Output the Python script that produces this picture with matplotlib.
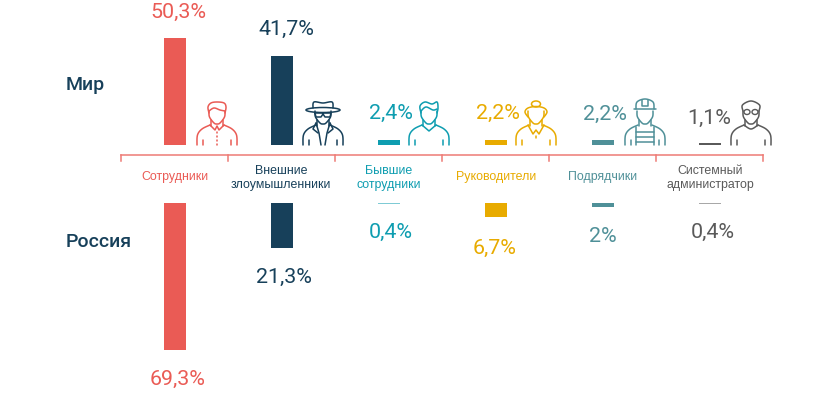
import numpy as np
import matplotlib
matplotlib.use("Agg")
from matplotlib import pyplot as plt
from matplotlib.patches import Ellipse

# values, percent
categories = ["Сотрудники", "Внешние\nзлоумышленники", "Бывшие\nсотрудники",
              "Руководители", "Подрядчики", "Системный\nадминистратор"]
world = [50.3, 41.7, 2.4, 2.2, 2.2, 1.1]
russia = [69.3, 21.3, 0.4, 6.7, 2, 0.4]
world_labels = ["50,3%", "41,7%", "2,4%", "2,2%", "2,2%", "1,1%"]
russia_labels = ["69,3%", "21,3%", "0,4%", "6,7%", "2%", "0,4%"]
colors = ["#EA5B55", "#17405A", "#0E9DB0", "#E8AB00", "#4F9098", "#5A5A5A"]
russia_colors = ["#EA5B55", "#17405A", "#7FCBD5", "#E8AB00", "#4F9098", "#A8A8A8"]

W, H = 832, 393
PX = 2.125  # pixels per percent
BAR_X0 = 175
STEP = 107

plt.rcParams['font.family'] = ['Roboto', 'DejaVu Sans']
fig = plt.figure(figsize=(W / 100, H / 100), dpi=100)

# overlay in pixel coordinates for the decoration
ov = fig.add_axes([0, 0, 1, 1])
ov.set_xlim(0, W)
ov.set_ylim(H, 0)
ov.axis("off")

xs = np.arange(len(categories))
xlim = (-BAR_X0 / STEP, (W - BAR_X0) / STEP)

# top bars grow up from y=145, bottom ones grow down from y=203
ax_top = fig.add_axes([0, 1 - 145 / H, 1, 145 / H])
ax_top.set_xlim(xlim)
ax_top.set_ylim(0, 145 / PX)
ax_top.bar(xs, world, width=22 / STEP, color=colors)
ax_top.axis("off")

ax_bot = fig.add_axes([0, 0, 1, (H - 203) / H])
ax_bot.set_xlim(xlim)
ax_bot.set_ylim((H - 203) / PX, 0)
ax_bot.bar(xs, russia, width=22 / STEP, color=russia_colors)
ax_bot.axis("off")

# bracket line under the top row
LINE = "#EE7B75"
ticks = [121 + STEP * i for i in range(7)]
ov.plot([121, 763], [155, 155], color=LINE, lw=1.1)
for t in ticks:
    ov.plot([t, t], [155, 161], color=LINE, lw=1.1)

label_y = [177, 178, 178, 177, 177, 178]
label_x = [175, 281, 389, 496, 603, 710]
for i, c in enumerate(categories):
    ov.text(label_x[i], label_y[i], c, color=colors[i], ha="center", va="center",
            fontsize=8.9, family=["Liberation Sans"], linespacing=1.12)

top_pos = [(178, 12), (286, 29), (391, 113), (498, 113), (605, 114), (709, 118)]
bot_pos = [(178, 379), (284, 277), (391, 232), (495, 248), (603, 237), (713, 232)]
for i in range(6):
    ov.text(*top_pos[i], world_labels[i], color=colors[i], ha="center", va="center", fontsize=15.4)
    ov.text(*bot_pos[i], russia_labels[i], color=colors[i], ha="center", va="center", fontsize=15.4)

ov.text(66, 85, "Мир", color="#17405A", fontsize=14, fontweight="medium", va="center")
ov.text(66, 242, "Россия", color="#17405A", fontsize=14, fontweight="medium", va="center")


def spline(pts, n=12):
    # catmull-rom through the points, ends repeated
    p = np.array(pts, dtype=float)
    p = np.vstack([p[0], p, p[-1]])
    out = []
    for k in range(1, len(p) - 2):
        t = np.linspace(0, 1, n)[:, None]
        a, b, c, d = p[k - 1], p[k], p[k + 1], p[k + 2]
        out.append(0.5 * (2 * b + (c - a) * t + (2 * a - 5 * b + 4 * c - d) * t ** 2
                          + (3 * b - a - 3 * c + d) * t ** 3))
    return np.vstack(out)


def line(cx, pts, col, smooth=True, lw=1.1):
    q = spline(pts) if smooth else np.array(pts, dtype=float)
    ov.plot(cx + q[:, 0], q[:, 1], color=col, lw=lw, solid_capstyle="round", solid_joinstyle="round")


def body(cx, col, neck=True):
    # shoulders, arm seams, lower half of the face
    for s in (-1, 1):
        line(cx, [(s * 20, 145), (s * 19.5, 135), (s * 15, 129), (s * 7, 125)], col)
        line(cx, [(s * 14, 140), (s * 14, 145)], col, smooth=False)
        if neck:
            line(cx, [(s * 6, 120), (s * 6, 126)], col, smooth=False)
    line(cx, [(-8, 111), (-7.5, 117), (-3, 123), (0, 124), (3, 123), (7.5, 117), (8, 111)], col)


def hair(cx, col, top=102):
    line(cx, [(-8, 113), (-9, 107), (-6, top + 1), (0, top), (7, top + 1), (9, 107), (8, 113)], col)
    line(cx, [(-8, 111), (-3, 108), (3, 110), (8, 111)], col)


# сотрудник
cx, col = 217, colors[0]
body(cx, col)
hair(cx, col)
line(cx, [(-7, 125), (-2, 130), (0, 126), (2, 130), (7, 125)], col, smooth=False)
for y in (132, 136, 140, 144):
    line(cx, [(0, y), (0, y + 1)], col, smooth=False)

# внешний злоумышленник
cx, col = 323, colors[1]
body(cx, col)
ov.add_patch(Ellipse((cx, 110), 34, 5, fill=False, ec=col, lw=1.1))
line(cx, [(-10, 108), (-9, 102), (0, 103), (9, 102), (10, 108)], col)
line(cx, [(-8, 113), (8, 113), (7, 117), (2, 117), (0, 114), (-2, 117), (-7, 117), (-8, 113)], col, smooth=False)
line(cx, [(-7, 123), (-4, 133), (-2, 145)], col, smooth=False)
line(cx, [(7, 123), (4, 133), (2, 145)], col, smooth=False)
line(cx, [(-7, 123), (-10, 129), (-5, 133)], col, smooth=False)
line(cx, [(7, 123), (10, 129), (5, 133)], col, smooth=False)

# бывший сотрудник
cx, col = 429, colors[2]
body(cx, col)
line(cx, [(-8, 113), (-9, 106), (-4, 102), (3, 104), (8, 102), (9, 108), (8, 113)], col)
line(cx, [(-8, 111), (-3, 107), (4, 110), (8, 109)], col)
line(cx, [(-7, 125), (0, 131), (7, 125)], col, smooth=False)

# руководитель
cx, col = 536, colors[3]
body(cx, col)
ov.add_patch(Ellipse((cx, 104), 9, 6, fill=False, ec=col, lw=1.1))
line(cx, [(-8, 117), (-11, 112), (-8, 108), (0, 106.5), (8, 108), (11, 112), (8, 117)], col)
line(cx, [(-8, 125), (-3, 134), (0, 130), (3, 134), (8, 125)], col, smooth=False)
line(cx, [(0, 136), (0, 138)], col, smooth=False)

# подрядчик
cx, col = 645, colors[4]
body(cx, col)
line(cx, [(-9, 109), (-8, 102), (0, 99), (8, 102), (9, 109)], col)
line(cx, [(-11, 109), (11, 109)], col, smooth=False)
line(cx, [(-3, 100), (-3, 106), (3, 106), (3, 100)], col, smooth=False)
for s in (-1, 1):
    line(cx, [(s * 9, 127), (s * 9, 145)], col, smooth=False)
for y in (132, 137, 142):
    line(cx, [(-9, y), (9, y)], col, smooth=False)

# системный администратор
cx, col = 751, colors[5]
body(cx, col)
line(cx, [(-8, 111), (-8.5, 105), (0, 101), (8.5, 105), (8, 111)], col)
ov.add_patch(Ellipse((cx - 4, 112), 6, 5, fill=False, ec=col, lw=1.0))
ov.add_patch(Ellipse((cx + 4, 112), 6, 5, fill=False, ec=col, lw=1.0))
line(cx, [(-7, 125), (0, 129), (7, 125)], col)

fig.savefig("out.png", dpi=100)
